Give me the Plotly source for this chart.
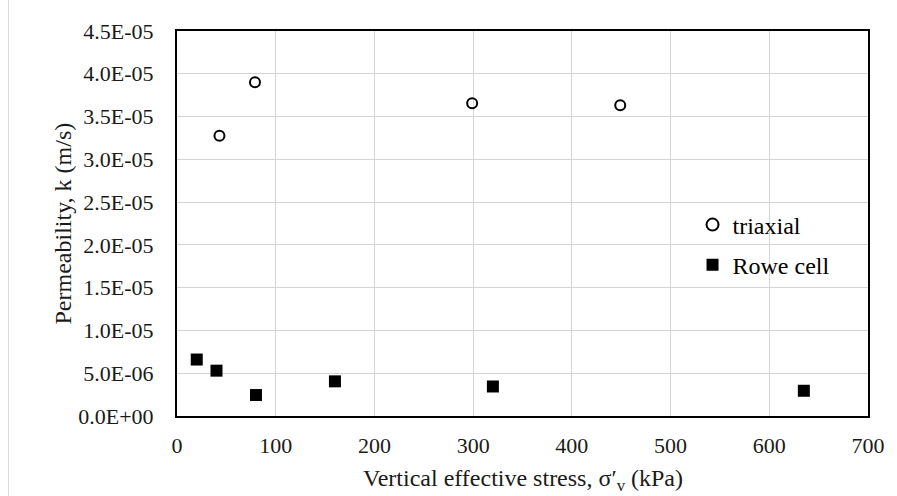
import plotly.graph_objects as go

# Data
triaxial_x = [43, 79, 299, 449]
triaxial_k = [3.275e-05, 3.90e-05, 3.655e-05, 3.632e-05]
rowe_x = [20, 40, 80, 160, 320, 635]
rowe_k = [6.6e-06, 5.3e-06, 2.45e-06, 4.05e-06, 3.45e-06, 2.95e-06]
y_tickvals = [0, 5e-06, 1e-05, 1.5e-05, 2e-05, 2.5e-05, 3e-05, 3.5e-05, 4e-05, 4.5e-05]
y_ticktext = ["0.0E+00", "5.0E-06", "1.0E-05", "1.5E-05", "2.0E-05", "2.5E-05",
              "3.0E-05", "3.5E-05", "4.0E-05", "4.5E-05"]
x_tickvals = [0, 100, 200, 300, 400, 500, 600, 700]

FONT = "Liberation Serif, Times New Roman, serif"
TXT = "#1a1a1a"

fig = go.Figure()
fig.add_trace(go.Scatter(
    x=triaxial_x, y=triaxial_k, mode="markers", name="triaxial", legendgroup="a",
    marker=dict(symbol="circle-open", size=10, color="black", line=dict(width=2, color="black")),
))
fig.add_trace(go.Scatter(
    x=rowe_x, y=rowe_k, mode="markers", name="Rowe cell", legendgroup="b",
    marker=dict(symbol="square", size=12, color="black"),
))

W, H = 897, 496
ml, mr, mt, mb = 177, 23, 31, 80
pw = W - ml - mr
ph = H - mt - mb

fig.update_layout(
    width=W, height=H,
    margin=dict(l=ml, r=mr, t=mt, b=mb),
    paper_bgcolor="white", plot_bgcolor="white",
    font=dict(family=FONT, size=22, color=TXT),
    showlegend=True,
    legend=dict(x=(697 - ml) / pw, y=(416 - 245) / ph, xanchor="left", yanchor="middle",
                bgcolor="rgba(0,0,0,0)", font=dict(size=24, color="black"),
                itemsizing="constant", tracegroupgap=6),
    xaxis=dict(
        range=[0, 700], tickvals=x_tickvals, showgrid=True, gridcolor="#d4d4d4", gridwidth=1,
        showline=True, linecolor="black", linewidth=2, mirror=True, zeroline=False,
        ticks="", tickfont=dict(size=22, color=TXT), ticklabelstandoff=9,
    ),
    yaxis=dict(
        range=[0, 4.5e-05], tickvals=y_tickvals, ticktext=y_ticktext, showgrid=True,
        gridcolor="#d4d4d4", gridwidth=1,
        showline=True, linecolor="black", linewidth=2, mirror=True, zeroline=False,
        ticks="", tickfont=dict(size=22, color=TXT), ticklabelstandoff=17,
    ),
    annotations=[
        dict(text="Vertical effective stress, σ′<sub>v</sub> (kPa)", xref="paper", yref="paper",
             x=0.5, y=(416 - 480) / ph, xanchor="center", yanchor="middle", showarrow=False,
             font=dict(size=24, color=TXT)),
        dict(text="Permeability, k (m/s)", xref="paper", yref="paper", textangle=-90,
             x=(62 - ml) / pw, y=0.5, xanchor="center", yanchor="middle", showarrow=False,
             font=dict(size=24, color=TXT)),
    ],
)

# faint outer chart border on the left
fig.add_shape(type="line", xref="paper", yref="paper",
              x0=(7 - ml) / pw, x1=(7 - ml) / pw, y0=-mb / ph, y1=1 + mt / ph,
              line=dict(color="#d9d9d9", width=1))

fig.write_html("out.html")
